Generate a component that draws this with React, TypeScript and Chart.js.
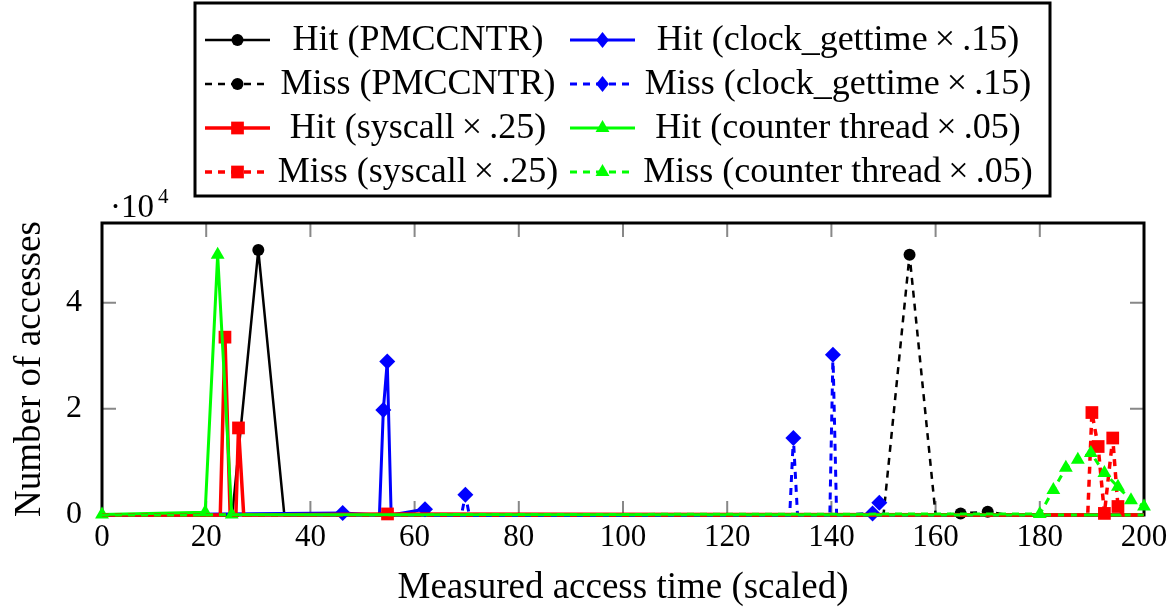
import React, { useEffect, useRef } from 'react';
import { Chart, registerables } from 'chart.js';
Chart.register(...registerables);

// ---- data ----
const hitPmcX = [0, 25, 30, 35, 200];
const hitPmcY = [0, 0, 49900, 0, 0];
const hitClockX = [0, 46.2, 53.25, 54, 54.75, 55.5, 62, 63, 200];
const hitClockY = [0, 400, 0, 19800, 28900, 0, 1100, 0, 0];
const missPmcX = [0, 150, 155, 160, 164.8, 170, 174, 200];
const missPmcY = [0, 0, 49000, 0, 300, 600, 0, 0];
const missClockX = [0, 69, 69.75, 70.5, 132, 132.7, 133.5, 139.7, 140.3, 141, 147.9, 149.2, 150, 200];
const missClockY = [0, 0, 3800, 0, 0, 14500, 0, 0, 30200, 0, 300, 2300, 0, 0];
const hitSysX = [0, 22.7, 23.6, 24.6, 25.7, 26.2, 27.2, 54.8, 200];
const hitSysY = [0, 0, 33500, 0, 0, 16400, 0, 200, 0];
const hitCtrX = [0, 19.8, 22.2, 24.9, 200];
const hitCtrY = [100, 500, 49000, 100, 0];
const missSysX = [0, 189.2, 190, 191.2, 192.4, 194, 195, 196, 200];
const missSysY = [0, 0, 19300, 12900, 300, 14500, 1600, 0, 0];
const missCtrX = [0, 180, 182.6, 185, 187.3, 189.8, 192.4, 195, 197.5, 200];
const missCtrY = [0, 200, 4700, 8900, 10400, 11700, 7900, 5300, 2800, 1600];

const xTicks = [0, 20, 40, 60, 80, 100, 120, 140, 160, 180, 200];
const yTicks = [0, 20000, 40000];
const yTickLabels = ['0', '2', '4'];

const labels = [
  'Hit (PMCCNTR)',
  'Hit (clock_gettime\u2009×\u2009.15)',
  'Miss (PMCCNTR)',
  'Miss (clock_gettime\u2009×\u2009.15)',
  'Hit (syscall\u2009×\u2009.25)',
  'Hit (counter thread\u2009×\u2009.05)',
  'Miss (syscall\u2009×\u2009.25)',
  'Miss (counter thread\u2009×\u2009.05)',
];

const SERIF = '"Liberation Serif", "Times New Roman", serif';

function pts(xs: number[], ys: number[]) {
  return xs.map((x, i) => ({ x, y: ys[i] }));
}

type Spec = { xs: number[]; ys: number[]; color: string; dashed: boolean; style: string; r: number; w: number };
const specs: Spec[] = [
  { xs: hitPmcX, ys: hitPmcY, color: '#000000', dashed: false, style: 'circle', r: 6, w: 2.5 },
  { xs: hitClockX, ys: hitClockY, color: '#0000ff', dashed: false, style: 'rectRot', r: 8, w: 3 },
  { xs: missPmcX, ys: missPmcY, color: '#000000', dashed: true, style: 'circle', r: 6, w: 2.5 },
  { xs: missClockX, ys: missClockY, color: '#0000ff', dashed: true, style: 'rectRot', r: 8, w: 3 },
  { xs: hitSysX, ys: hitSysY, color: '#ff0000', dashed: false, style: 'rect', r: 9, w: 3.5 },
  { xs: hitCtrX, ys: hitCtrY, color: '#00ff00', dashed: false, style: 'triangle', r: 8, w: 3 },
  { xs: missSysX, ys: missSysY, color: '#ff0000', dashed: true, style: 'rect', r: 9, w: 3.5 },
  { xs: missCtrX, ys: missCtrY, color: '#00ff00', dashed: true, style: 'triangle', r: 8, w: 3 },
];
const DASH = [7, 6];

function drawMarker(ctx: CanvasRenderingContext2D, style: string, x: number, y: number, r: number, color: string) {
  ctx.save();
  ctx.fillStyle = color;
  ctx.beginPath();
  if (style === 'circle') {
    ctx.arc(x, y, r, 0, Math.PI * 2);
  } else if (style === 'rect') {
    const s = r * Math.SQRT1_2;
    ctx.rect(x - s, y - s, 2 * s, 2 * s);
  } else if (style === 'rectRot') {
    ctx.moveTo(x, y - r);
    ctx.lineTo(x + r * 0.8, y);
    ctx.lineTo(x, y + r);
    ctx.lineTo(x - r * 0.8, y);
    ctx.closePath();
  } else {
    for (let k = 0; k < 3; k++) {
      const a = -Math.PI / 2 + (k * 2 * Math.PI) / 3;
      const px = x + r * Math.cos(a);
      const py = y + r * Math.sin(a);
      if (k === 0) ctx.moveTo(px, py);
      else ctx.lineTo(px, py);
    }
    ctx.closePath();
  }
  ctx.fill();
  ctx.restore();
}

const framePlugin = {
  id: 'frameTicks',
  beforeDatasetsDraw(chart: any) {
    const { ctx, chartArea: a, scales } = chart;
    ctx.save();
    ctx.strokeStyle = '#888888';
    ctx.lineWidth = 2;
    const T = 14;
    for (const v of xTicks) {
      const px = scales.x.getPixelForValue(v);
      ctx.beginPath();
      ctx.moveTo(px, a.bottom);
      ctx.lineTo(px, a.bottom - T);
      ctx.moveTo(px, a.top);
      ctx.lineTo(px, a.top + T);
      ctx.stroke();
    }
    for (const v of yTicks) {
      const py = scales.y.getPixelForValue(v);
      ctx.beginPath();
      ctx.moveTo(a.left, py);
      ctx.lineTo(a.left + T, py);
      ctx.moveTo(a.right, py);
      ctx.lineTo(a.right - T, py);
      ctx.stroke();
    }
    ctx.strokeStyle = '#000000';
    ctx.lineWidth = 3;
    ctx.strokeRect(a.left, a.top, a.right - a.left, a.bottom - a.top);
    ctx.restore();
  },
  afterDraw(chart: any) {
    const { ctx } = chart;
    ctx.save();
    // exponent label
    ctx.fillStyle = '#000';
    ctx.textBaseline = 'alphabetic';
    ctx.textAlign = 'left';
    ctx.font = `33px ${SERIF}`;
    ctx.fillText('·10', 110, 217);
    ctx.font = `21px ${SERIF}`;
    ctx.fillText('4', 158, 203);

    // legend box
    ctx.strokeStyle = '#000';
    ctx.lineWidth = 3;
    ctx.strokeRect(195, 3, 855, 193);
    const rowsY = [40, 84, 128, 172];
    const sample = [[205, 270], [570, 635]];
    const textC = [418, 838];
    ctx.font = `36px ${SERIF}`;
    ctx.textAlign = 'center';
    ctx.textBaseline = 'middle';
    specs.forEach((s, i) => {
      const row = Math.floor(i / 2);
      const col = i % 2;
      const y = rowsY[row];
      const [x0, x1] = sample[col];
      ctx.save();
      ctx.strokeStyle = s.color;
      ctx.lineWidth = s.w;
      ctx.setLineDash(s.dashed ? DASH : []);
      ctx.beginPath();
      ctx.moveTo(x0, y);
      ctx.lineTo(x1, y);
      ctx.stroke();
      ctx.restore();
      drawMarker(ctx, s.style, (x0 + x1) / 2, y, s.r, s.color);
      ctx.fillStyle = '#000';
      ctx.fillText(labels[i], textC[col], y + 1);
    });
    ctx.restore();
  },
};

export default function App() {
  const ref = useRef<HTMLCanvasElement | null>(null);
  useEffect(() => {
    document.body.style.margin = '0';
    if (!ref.current) return;
    const datasets = specs.map((s, i) => ({
      label: labels[i],
      data: pts(s.xs, s.ys),
      borderColor: s.color,
      backgroundColor: s.color,
      borderWidth: s.w,
      borderDash: s.dashed ? DASH : [],
      pointStyle: s.style,
      pointRadius: (c: any) => (c.raw && c.raw.y === 0 ? 0 : s.r),
      pointBorderWidth: 0,
      pointBackgroundColor: s.color,
      tension: 0,
      clip: false as any,
      order: specs.length - i,
    }));
    const chart = new Chart(ref.current, {
      type: 'line',
      data: { datasets },
      plugins: [framePlugin],
      options: {
        animation: false,
        responsive: false,
        devicePixelRatio: 1,
        parsing: false as any,
        layout: { padding: { top: 223, right: 29, left: 0, bottom: 0 } },
        plugins: { legend: { display: false }, tooltip: { enabled: false } },
        scales: {
          x: {
            type: 'linear',
            min: 0,
            max: 200,
            grid: { display: false, drawTicks: false },
            border: { display: false },
            afterBuildTicks: (sc: any) => { sc.ticks = xTicks.map((v) => ({ value: v })); },
            afterFit: (sc: any) => { sc.height = 92; },
            ticks: {
              color: '#000',
              padding: 4,
              font: { family: SERIF, size: 31 },
              maxRotation: 0,
              autoSkip: false,
              callback: (v: any) => String(v),
            },
            title: {
              display: true,
              text: 'Measured access time (scaled)',
              color: '#000',
              font: { family: SERIF, size: 37, lineHeight: 1 },
              padding: { top: 0, bottom: 0 },
            },
          },
          y: {
            type: 'linear',
            min: 0,
            max: 55000,
            grid: { display: false, drawTicks: false },
            border: { display: false },
            afterBuildTicks: (sc: any) => { sc.ticks = yTicks.map((v) => ({ value: v })); },
            afterFit: (sc: any) => { sc.width = 102; },
            ticks: {
              color: '#000',
              padding: 20,
              font: { family: SERIF, size: 32 },
              callback: (v: any) => yTickLabels[yTicks.indexOf(Number(v))] ?? '',
            },
            title: {
              display: true,
              text: 'Number of accesses',
              color: '#000',
              font: { family: SERIF, size: 37, lineHeight: 1 },
              padding: { top: 12, bottom: 0 },
            },
          },
        },
      },
    });
    return () => chart.destroy();
  }, []);
  return (
    <div style={{ width: 1173, height: 607 }}>
      <canvas ref={ref} width={1173} height={607} style={{ display: 'block' }} />
    </div>
  );
}
